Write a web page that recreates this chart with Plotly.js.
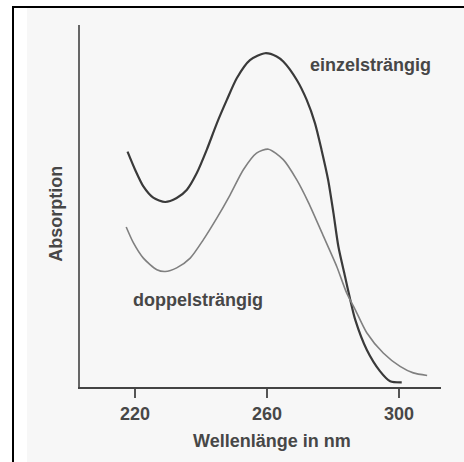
<!DOCTYPE html>
<html>
<head>
<meta charset="utf-8">
<script src="https://cdn.plot.ly/plotly-3.0.1.min.js"></script>
<style>
  html, body { margin: 0; padding: 0; background: #ffffff; }
  #wrap { position: relative; width: 464px; height: 462px; overflow: hidden; background: #ffffff; }
  #plot { position: absolute; left: 27px; top: 8px; width: 437px; height: 454px; }
  #frame { position: absolute; left: 12px; top: 6px; width: 470px; height: 470px;
           border-left: 2px solid #000; border-top: 2px solid #000; pointer-events: none; }
</style>
</head>
<body>
<div id="wrap">
  <div id="plot"></div>
  <div id="frame"></div>
</div>
<script>
// Wavelength in nm and (relative) absorption
const wlSingle = [217.7, 220.0, 222.5, 225.5, 229.1, 232.6, 235.7, 238.7, 241.7, 244.8, 247.8, 250.8, 254.8, 259.4, 262.9, 264.9, 269.0, 272.0, 274.5, 276.5, 278.5, 280.1, 281.6, 283.6, 285.2, 286.7, 290.2, 294.2, 297.3, 300.8];
const absSingle = [0.650, 0.600, 0.554, 0.523, 0.511, 0.522, 0.545, 0.591, 0.655, 0.729, 0.793, 0.853, 0.903, 0.922, 0.913, 0.899, 0.848, 0.793, 0.729, 0.655, 0.572, 0.481, 0.388, 0.306, 0.241, 0.186, 0.103, 0.044, 0.016, 0.013];

const wlDouble = [217.3, 219.5, 222.5, 226.6, 229.1, 232.6, 236.7, 240.7, 244.8, 248.8, 252.8, 256.8, 260.4, 264.9, 269.0, 272.5, 277.1, 281.1, 284.1, 286.7, 290.2, 295.2, 300.3, 304.3, 308.5];
const absDouble = [0.442, 0.398, 0.356, 0.324, 0.319, 0.329, 0.356, 0.407, 0.467, 0.531, 0.600, 0.646, 0.657, 0.628, 0.572, 0.510, 0.416, 0.333, 0.260, 0.214, 0.150, 0.094, 0.057, 0.039, 0.032];

const tickValues = [220, 260, 300];
const tickLabels = ['220', '260', '300'];
const labelSingle = 'einzelsträngig';
const labelDouble = 'doppelsträngig';
const xTitle = 'Wellenlänge in nm';
const yTitle = 'Absorption';

const textColor = '#474747';
const fontFam = 'Arial, "Liberation Sans", Helvetica, sans-serif';
const txtFont = { size: 18, color: textColor, family: fontFam, weight: 'bold' };

const traces = [
  { x: wlSingle, y: absSingle, type: 'scatter', mode: 'lines', name: labelSingle,
    line: { color: '#3a3a3a', width: 2.2, shape: 'spline', smoothing: 0.7 }, hoverinfo: 'skip' },
  { x: wlDouble, y: absDouble, type: 'scatter', mode: 'lines', name: labelDouble,
    line: { color: '#808080', width: 1.6, shape: 'spline', smoothing: 0.7 }, hoverinfo: 'skip' }
];

const layout = {
  width: 437, height: 454,
  margin: { l: 53, r: 23, t: 17, b: 74.5, pad: 0 },
  paper_bgcolor: '#f7f7f7',
  plot_bgcolor: 'rgba(0,0,0,0)',
  showlegend: false,
  font: { family: fontFam, color: textColor, size: 18 },
  xaxis: {
    range: [203.3, 312.7], fixedrange: true,
    showgrid: false, zeroline: false,
    showline: true, linecolor: '#444', linewidth: 2,
    ticks: 'outside', ticklen: 9, tickwidth: 2, tickcolor: '#555',
    tickvals: tickValues, ticktext: tickLabels,
    tickfont: txtFont,
    title: { text: '' }
  },
  yaxis: {
    range: [0, 1], fixedrange: true,
    showgrid: false, zeroline: false,
    showline: true, linecolor: '#666', linewidth: 1.8,
    ticks: '', showticklabels: false,
    title: { text: '' }
  },
  annotations: [
    { x: 0.532, y: -0.150, xref: 'paper', yref: 'paper', text: xTitle, showarrow: false,
      xanchor: 'center', yanchor: 'middle', font: txtFont },
    { x: -0.0665, y: 0.4786, xref: 'paper', yref: 'paper', text: yTitle, showarrow: false,
      textangle: -90, xanchor: 'center', yanchor: 'middle', font: txtFont },
    { x: 272.4, y: 0.890, xref: 'x', yref: 'y', text: labelSingle, showarrow: false,
      xanchor: 'left', yanchor: 'middle', font: txtFont },
    { x: 218.9, y: 0.240, xref: 'x', yref: 'y', text: labelDouble, showarrow: false,
      xanchor: 'left', yanchor: 'middle', font: txtFont }
  ]
};

Plotly.newPlot('plot', traces, layout, { staticPlot: true, displayModeBar: false });
</script>
</body>
</html>
